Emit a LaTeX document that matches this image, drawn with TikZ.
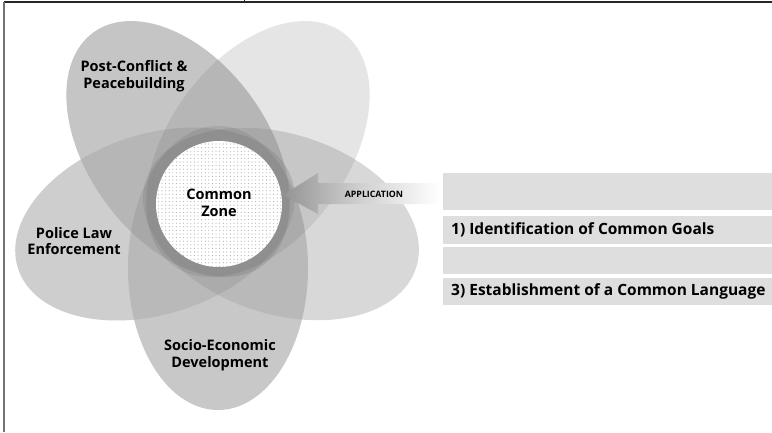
\documentclass[tikz,border=0pt]{standalone}
\usepackage{fontspec}
\setmainfont{Open Sans}
\usetikzlibrary{patterns.meta,shadings}
\begin{document}
\begin{tikzpicture}[x=1pt,y=-1pt,
  shade petal/.style={fill=black,fill opacity=0.075,draw=none},
  label/.style={font=\bfseries\fontsize{14.5}{16.5}\selectfont,align=center,inner sep=0pt},
  stepbar/.style={fill=black!13,draw=none},
  steptext/.style={font=\bfseries\fontsize{15.5}{17}\selectfont,anchor=west,inner sep=0pt}]
\useasboundingbox (0,0) rectangle (772,432);
\fill[white] (0,0) rectangle (772,432);

% frame
\draw[black!85,line width=1.4pt] (4,2) -- (772,2);
\draw[black!55,line width=2pt] (4,2) -- (4,432);
\draw[black!85,line width=1pt] (244,0) -- (244,2);

% base tones, lightest first so the darker tone wins where petals meet
\definecolor{ptr}{gray}{0.972}
\definecolor{prt}{gray}{0.918}
\definecolor{plf}{gray}{0.874}
\definecolor{pbt}{gray}{0.851}
\definecolor{ptl}{gray}{0.835}
\fill[ptr,rotate around={54:(258,149)}] (258,149) ellipse [x radius=144pt, y radius=90pt];
\fill[prt,rotate around={-18:(281,224)}] (281,224) ellipse [x radius=142pt, y radius=90pt];
\fill[plf,rotate around={18:(155,224)}] (155,224) ellipse [x radius=144pt, y radius=90pt];
\fill[pbt,rotate around={90:(218,268)}] (218,268) ellipse [x radius=142pt, y radius=90pt];
\fill[ptl,rotate around={126:(178,149)}] (178,149) ellipse [x radius=144pt, y radius=90pt];
% light overlay so that overlaps deepen
\fill[shade petal,rotate around={54:(258,149)}] (258,149) ellipse [x radius=144pt, y radius=90pt];
\fill[shade petal,rotate around={-18:(281,224)}] (281,224) ellipse [x radius=142pt, y radius=90pt];
\fill[shade petal,rotate around={18:(155,224)}] (155,224) ellipse [x radius=144pt, y radius=90pt];
\fill[shade petal,rotate around={90:(218,268)}] (218,268) ellipse [x radius=142pt, y radius=90pt];
\fill[shade petal,rotate around={126:(178,149)}] (178,149) ellipse [x radius=144pt, y radius=90pt];

% common zone
\fill[white] (219,204) circle (63pt);
\fill[pattern={Dots[distance=3.6pt,radius=0.6pt]},pattern color=black!30] (219,204) circle (63pt);

% application arrow
\shade[left color=black!42,right color=white,middle color=black!18]
  (283,195) -- (318,173) -- (318,183) -- (440,183) -- (440,204) -- (318,204) -- (318,214) -- cycle;
\node[font=\bfseries\fontsize{8.8}{10}\selectfont,inner sep=0pt] (app) at (374,194) {APPLICATION};

% labels
\node[label] (pc) at (134,76) {Post-Conflict \&\\Peacebuilding};
\node[label] (pl) at (74,241) {Police Law\\Enforcement};
\node[label] (cz) at (219,203) {Common\\Zone};
\node[label] (se) at (220,355) {Socio-Economic\\Development};

% steps
\fill[stepbar] (443,173) rectangle (772,210);
\fill[stepbar] (443,216) rectangle (772,244);
\fill[stepbar] (443,247) rectangle (772,274);
\fill[stepbar] (443,278) rectangle (772,305);
\node[steptext] (s1) at (451,230) {1) Identification of Common Goals};
\node[steptext] (s3) at (451,291.5) {3) Establishment of a Common Language};
\end{tikzpicture}
\end{document}
